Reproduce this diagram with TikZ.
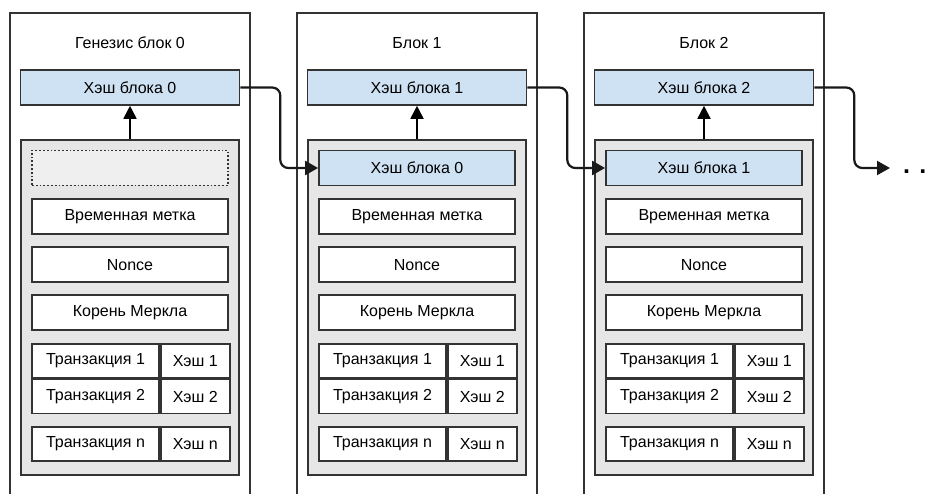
\documentclass[tikz,border=0pt]{standalone}
\usepackage{fontspec}
\setmainfont{Liberation Sans}
\usepackage{xcolor}
\usepackage{tikz}
\usetikzlibrary{arrows.meta,positioning}

\definecolor{edgegray}{HTML}{333333}
\definecolor{hashblue}{HTML}{CFE2F3}
\definecolor{panelgray}{HTML}{E6E6E6}
\definecolor{emptygray}{HTML}{EFEFEF}

\begin{document}
\begin{tikzpicture}[
  x=1pt, y=-1pt,
  blockframe/.style={
    draw=edgegray,
    line width=1.6pt,
    minimum width=240pt,
    minimum height=500pt
  },
  title/.style={
    font=\fontsize{16}{19}\selectfont
  },
  hashbox/.style={
    draw=edgegray,
    fill=hashblue,
    line width=1.6pt,
    minimum width=219pt,
    minimum height=35pt,
    font=\fontsize{16}{19}\selectfont
  },
  panel/.style={
    draw=edgegray,
    fill=panelgray,
    line width=1.4pt,
    minimum width=218pt,
    minimum height=335pt
  },
  field/.style={
    draw=edgegray,
    fill=white,
    line width=1.8pt,
    minimum width=196pt,
    minimum height=35pt,
    inner sep=0pt,
    font=\fontsize{16}{19}\selectfont
  },
  emptybox/.style={
    field,
    dotted,
    fill=emptygray
  },
  prevhash/.style={
    field,
    fill=hashblue
  },
  txcell/.style={
    field,
    minimum width=127pt,
    minimum height=34pt
  },
  hashcell/.style={
    field,
    minimum width=69pt,
    minimum height=34pt
  },
  up/.style={
    -{Triangle[length=13pt,width=13pt]},
    draw=black,
    line width=1.8pt
  },
  link/.style={
    -{Triangle[length=13pt,width=14pt]},
    draw=black!90,
    line width=2.2pt,
    rounded corners=8pt
  },
  node distance=11.5pt
]

\clip (0,0) rectangle (932,494);
\fill[white] (0,0) rectangle (932,494);

% Genesis block
\node[blockframe] (frame0) at (130,263) {};
\node[title] (title0) at (130,43) {Генезис блок 0};
\node[hashbox] (hash0) at (130,87.5) {Хэш блока 0};
\node[panel] (panel0) at (130,307.5) {};
\node[emptybox] (prev0) at (130,168) {};
\node[field, below=of prev0] (time0) {Временная метка};
\node[field, below=of time0] (nonce0) {Nonce};
\node[field, below=of nonce0] (root0) {Корень Меркла};
\node[txcell, below=of root0.south west, anchor=north west] (txa0) {Транзакция 1};
\node[hashcell, right=0pt of txa0] (hasha0) {Хэш 1};
\node[txcell, below=0pt of txa0] (txb0) {Транзакция 2};
\node[hashcell, right=0pt of txb0] (hashb0) {Хэш 2};
\node[txcell, below=of txb0] (txn0) {Транзакция n};
\node[hashcell, right=0pt of txn0] (hashn0) {Хэш n};
\draw[up] (panel0) -- (hash0);

% Block 1
\node[blockframe] (frame1) at (417,263) {};
\node[title] (title1) at (417,43) {Блок 1};
\node[hashbox] (hash1) at (417,87.5) {Хэш блока 1};
\node[panel] (panel1) at (417,307.5) {};
\node[prevhash] (prev1) at (417,168) {Хэш блока 0};
\node[field, below=of prev1] (time1) {Временная метка};
\node[field, below=of time1] (nonce1) {Nonce};
\node[field, below=of nonce1] (root1) {Корень Меркла};
\node[txcell, below=of root1.south west, anchor=north west] (txa1) {Транзакция 1};
\node[hashcell, right=0pt of txa1] (hasha1) {Хэш 1};
\node[txcell, below=0pt of txa1] (txb1) {Транзакция 2};
\node[hashcell, right=0pt of txb1] (hashb1) {Хэш 2};
\node[txcell, below=of txb1] (txn1) {Транзакция n};
\node[hashcell, right=0pt of txn1] (hashn1) {Хэш n};
\draw[up] (panel1) -- (hash1);

% Block 2
\node[blockframe] (frame2) at (704,263) {};
\node[title] (title2) at (704,43) {Блок 2};
\node[hashbox] (hash2) at (704,87.5) {Хэш блока 2};
\node[panel] (panel2) at (704,307.5) {};
\node[prevhash] (prev2) at (704,168) {Хэш блока 1};
\node[field, below=of prev2] (time2) {Временная метка};
\node[field, below=of time2] (nonce2) {Nonce};
\node[field, below=of nonce2] (root2) {Корень Меркла};
\node[txcell, below=of root2.south west, anchor=north west] (txa2) {Транзакция 1};
\node[hashcell, right=0pt of txa2] (hasha2) {Хэш 1};
\node[txcell, below=0pt of txa2] (txb2) {Транзакция 2};
\node[hashcell, right=0pt of txb2] (hashb2) {Хэш 2};
\node[txcell, below=of txb2] (txn2) {Транзакция n};
\node[hashcell, right=0pt of txn2] (hashn2) {Хэш n};
\draw[up] (panel2) -- (hash2);

% Chain links
\coordinate (tail) at (890,168);
\node[anchor=base west, inner sep=0pt, font=\fontsize{25}{25}\selectfont\bfseries] (more) at (903,174) {. .};
\draw[link] (hash0.east) -- ++(40,0) |- (prev1.west);
\draw[link] (hash1.east) -- ++(40,0) |- (prev2.west);
\draw[link] (hash2.east) -- ++(40,0) |- (tail);

\end{tikzpicture}
\end{document}
